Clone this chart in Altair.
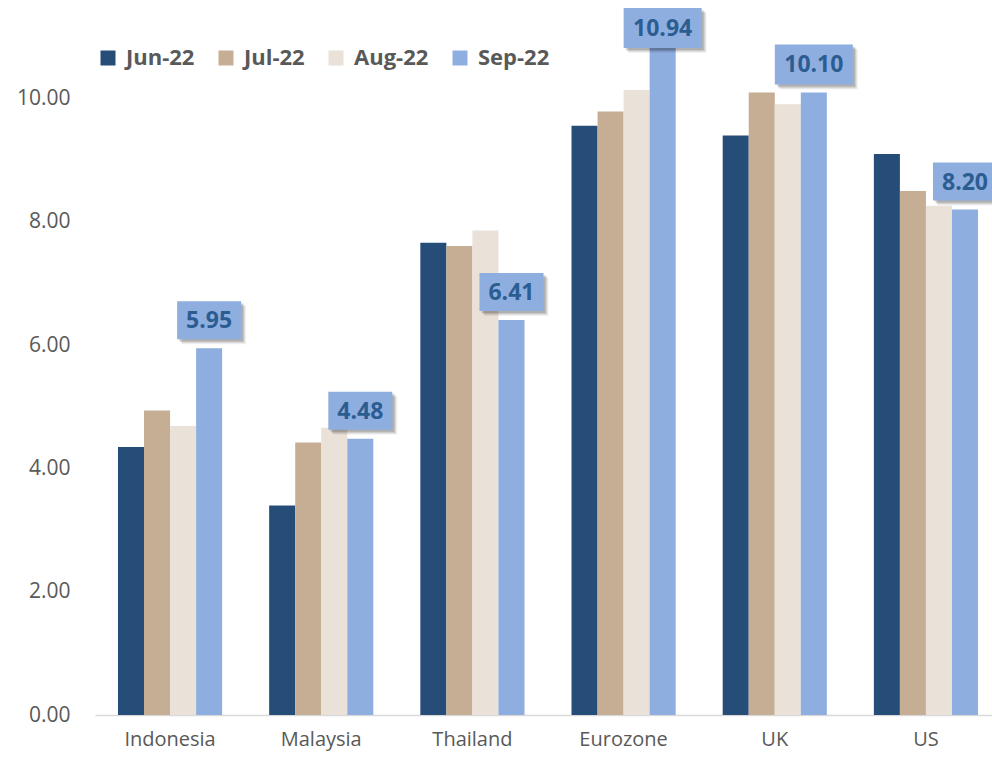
import altair as alt
import pandas as pd

countries = ["Indonesia", "Malaysia", "Thailand", "Eurozone", "UK", "US"]
series = ["Jun-22", "Jul-22", "Aug-22", "Sep-22"]
jun = [4.35, 3.40, 7.66, 9.56, 9.40, 9.10]
jul = [4.94, 4.42, 7.61, 9.79, 10.10, 8.50]
aug = [4.69, 4.66, 7.86, 10.14, 9.91, 8.26]
sep = [5.95, 4.48, 6.41, 10.94, 10.10, 8.20]
colors = ["#264C78", "#C5AE94", "#EAE1D8", "#8FAEE0"]
y_ticks = [0, 2, 4, 6, 8, 10]

FONT = "Open Sans"
H = 715
YMAX = 11.6
PX = H / YMAX

rows = []
for s, vals in zip(series, [jun, jul, aug, sep]):
    for c, v in zip(countries, vals):
        rows.append({"country": c, "month": s, "value": v})
df = pd.DataFrame(rows)

base = alt.Chart(df)

x_axis = alt.Axis(labelAngle=0, labelFont=FONT, labelFontSize=20, labelColor="#595959",
                  labelPadding=14, domainColor="#D9D9D9", domainWidth=1.5, ticks=False)
y_axis = alt.Axis(values=y_ticks, format=".2f", grid=False, domain=False, ticks=False,
                  labelPadding=25, labelFont=FONT, labelFontSize=21, labelColor="#595959")

x_main = alt.X(
    "country:N", sort=countries, title=None,
    scale=alt.Scale(range=[0, 906], paddingInner=0.311, paddingOuter=0.152),
    axis=x_axis,
)
y_main = alt.Y("value:Q", title=None, scale=alt.Scale(domain=[0, YMAX], nice=False), axis=y_axis)

bars = base.mark_bar().encode(
    x=x_main,
    xOffset=alt.XOffset("month:N", sort=series, scale=alt.Scale(paddingInner=0, paddingOuter=0)),
    y=y_main,
    color=alt.Color(
        "month:N", sort=series,
        scale=alt.Scale(domain=series, range=colors),
        legend=alt.Legend(
            title=None, orient="none", legendX=2, legendY=47, direction="horizontal",
            symbolType="square", symbolSize=225, symbolStrokeWidth=0,
            labelFont=FONT, labelFontSize=22, labelFontWeight="bold", labelColor="#595959",
            labelOffset=7, columnPadding=20, padding=0,
        ),
    ),
)

lab = base.transform_filter(alt.datum.month == "Sep-22").transform_calculate(
    ly=f"min(datum.value + {28 / PX}, {(H - 28) / PX})",
    n="length(format(datum.value, '.2f'))",
)

x_lab = alt.X("country:N", sort=countries, title=None, bandPosition=0.875, axis=x_axis)
y_lab = alt.Y("ly:Q", title=None, axis=y_axis)

path4 = "M-1,-0.594L1,-0.594L1,0.594L-1,0.594Z"
path5 = "M-1,-0.513L1,-0.513L1,0.513L-1,0.513Z"

layers = [bars]
for cond, path, size in [("datum.n <= 4", path4, 64 * 64), ("datum.n > 4", path5, 78 * 78)]:
    sub = lab.transform_filter(cond)
    for off, op in [(2, 0.12), (3, 0.10), (4, 0.08), (5, 0.05)]:
        layers.append(sub.mark_point(shape=path, size=size, filled=True, fill="#000000",
                                     opacity=op, strokeWidth=0, xOffset=off, yOffset=off)
                      .encode(x=x_lab, y=y_lab))
for cond, path, size in [("datum.n <= 4", path4, 64 * 64), ("datum.n > 4", path5, 78 * 78)]:
    sub = lab.transform_filter(cond)
    layers.append(sub.mark_point(shape=path, size=size, filled=True, fill="#8FAEE0",
                                 opacity=1, strokeWidth=0).encode(x=x_lab, y=y_lab))

text = lab.mark_text(font=FONT, fontSize=23, fontWeight="bold", color="#2B5D91",
                     baseline="middle", dy=1).encode(
    x=x_lab, y=y_lab, text=alt.Text("value:Q", format=".2f"))
layers.append(text)

chart = alt.layer(*layers).properties(
    width=897, height=H,
    autosize=alt.AutoSizeParams(type="none"),
    padding={"left": 95, "top": 0, "right": 0, "bottom": 42},
).configure(background="white").configure_view(stroke=None)

chart.save("out.html", embed_options={"renderer": "svg", "actions": False})
